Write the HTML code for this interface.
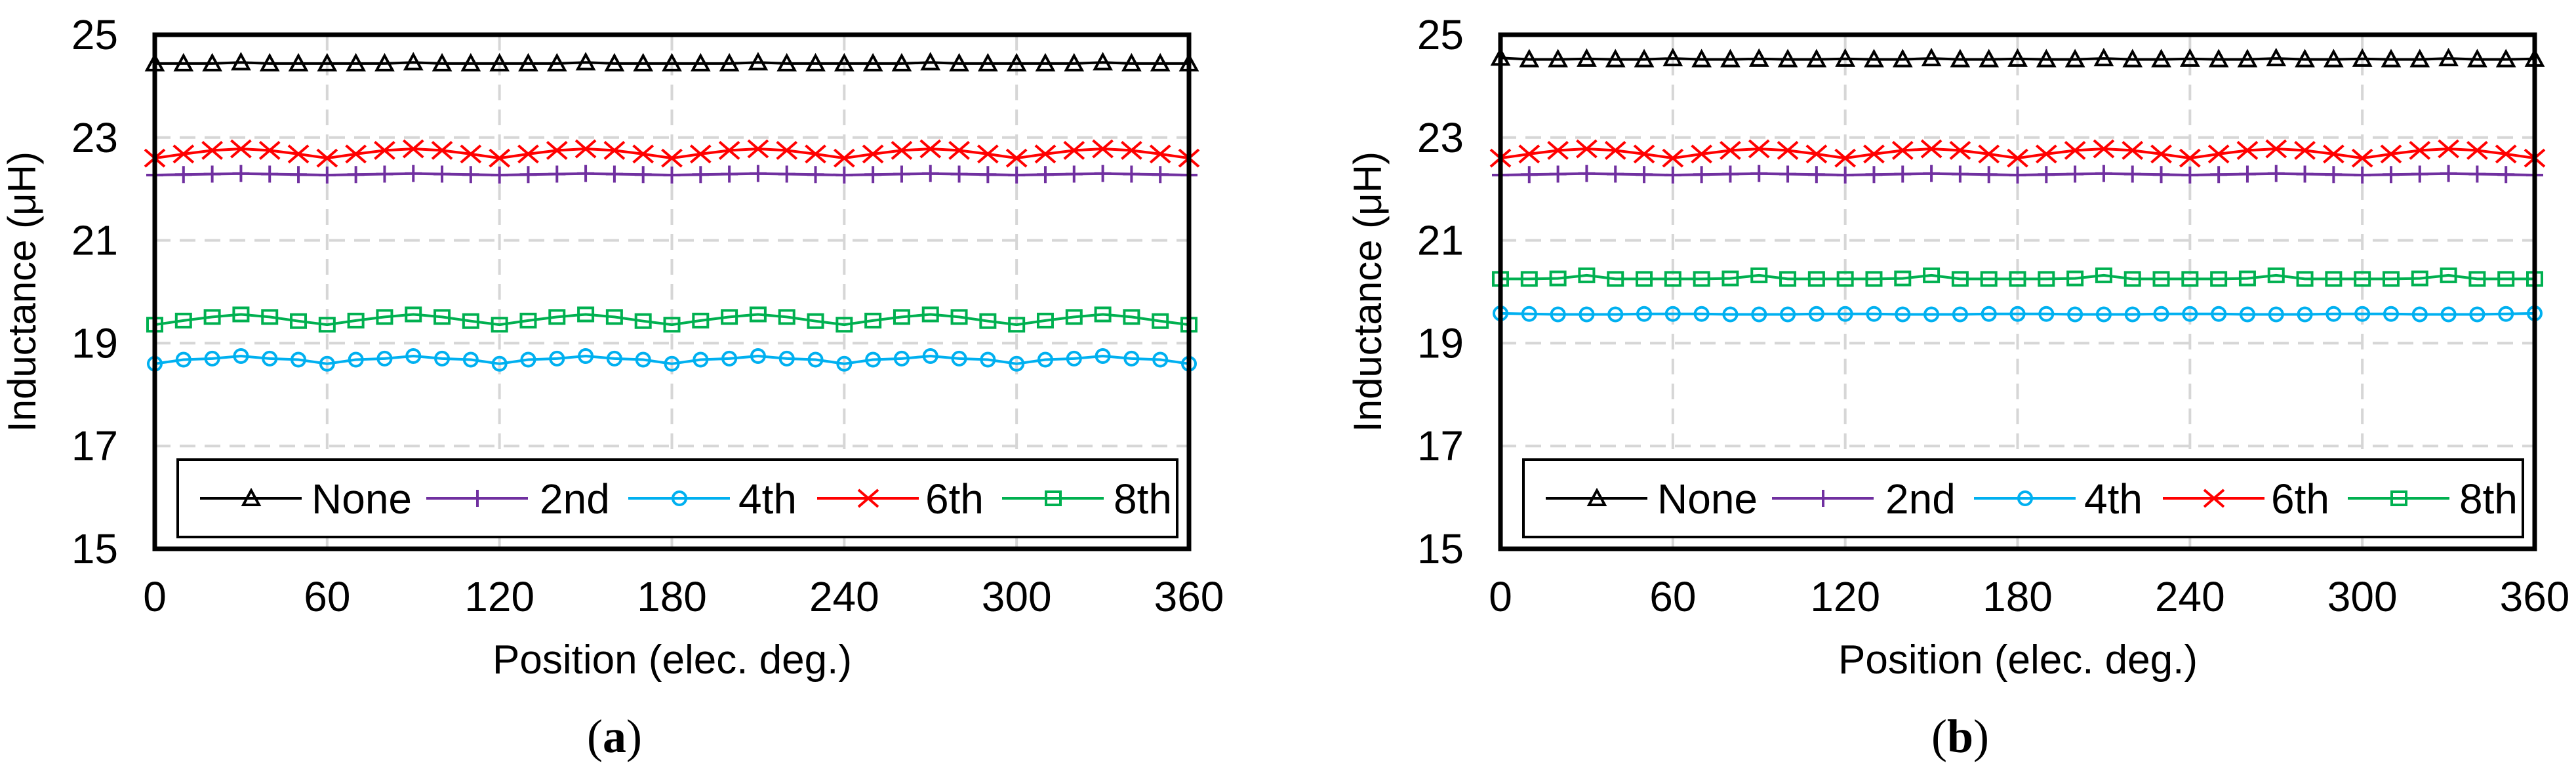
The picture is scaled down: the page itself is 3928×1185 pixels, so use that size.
<!DOCTYPE html>
<html><head><meta charset="utf-8"><style>
html,body{margin:0;padding:0;background:#fff;}
svg{display:block;font-family:"Liberation Sans",Arial,sans-serif;}
</style></head><body>
<svg id="fig" width="3928" height="1185" viewBox="0 0 3928 1185" xmlns="http://www.w3.org/2000/svg"></svg>
<script>
const positions = [0,10,20,30,40,50,60,70,80,90,100,110,120,130,140,150,160,170,180,190,200,210,220,230,240,250,260,270,280,290,300,310,320,330,340,350,360];
const xTicks = [0,60,120,180,240,300,360];
const yTicks = [15,17,19,21,23,25];
const seriesNames = ["None","2nd","4th","6th","8th"];
const seriesColors = ["#000000","#7030a0","#00b0f0","#ff0000","#00b050"];
const seriesMarkers = ["triangle","plus","circle","cross","square"];

const aNone = [24.44,24.44,24.44,24.46,24.44,24.44,24.44,24.44,24.44,24.46,24.44,24.44,24.44,24.44,24.44,24.46,24.44,24.44,24.44,24.44,24.44,24.46,24.44,24.44,24.44,24.44,24.44,24.46,24.44,24.44,24.44,24.44,24.44,24.46,24.44,24.44,24.44];
const a2nd = [22.27,22.28,22.29,22.30,22.29,22.28,22.27,22.28,22.29,22.30,22.29,22.28,22.27,22.28,22.29,22.30,22.29,22.28,22.27,22.28,22.29,22.30,22.29,22.28,22.27,22.28,22.29,22.30,22.29,22.28,22.27,22.28,22.29,22.30,22.29,22.28,22.27];
const a4th = [18.60,18.68,18.70,18.75,18.70,18.68,18.60,18.68,18.70,18.75,18.70,18.68,18.60,18.68,18.70,18.75,18.70,18.68,18.60,18.68,18.70,18.75,18.70,18.68,18.60,18.68,18.70,18.75,18.70,18.68,18.60,18.68,18.70,18.75,18.70,18.68,18.60];
const a6th = [22.60,22.68,22.75,22.78,22.75,22.68,22.60,22.68,22.75,22.78,22.75,22.68,22.60,22.68,22.75,22.78,22.75,22.68,22.60,22.68,22.75,22.78,22.75,22.68,22.60,22.68,22.75,22.78,22.75,22.68,22.60,22.68,22.75,22.78,22.75,22.68,22.60];
const a8th = [19.36,19.44,19.51,19.56,19.51,19.43,19.36,19.44,19.51,19.56,19.51,19.43,19.36,19.44,19.51,19.56,19.51,19.43,19.36,19.44,19.51,19.56,19.51,19.43,19.36,19.44,19.51,19.56,19.51,19.43,19.36,19.44,19.51,19.56,19.51,19.43,19.36];

const bNone = [24.55,24.52,24.52,24.53,24.52,24.52,24.54,24.52,24.52,24.53,24.52,24.52,24.53,24.52,24.52,24.54,24.52,24.52,24.53,24.52,24.52,24.54,24.52,24.52,24.53,24.52,24.52,24.54,24.52,24.52,24.53,24.52,24.52,24.54,24.52,24.52,24.53];
const b2nd = [22.27,22.28,22.29,22.30,22.29,22.28,22.27,22.28,22.29,22.30,22.29,22.28,22.27,22.28,22.29,22.30,22.29,22.28,22.27,22.28,22.29,22.30,22.29,22.28,22.27,22.28,22.29,22.30,22.29,22.28,22.27,22.28,22.29,22.30,22.29,22.28,22.27];
const b4th = [19.58,19.57,19.56,19.56,19.56,19.57,19.57,19.57,19.56,19.56,19.56,19.57,19.57,19.57,19.56,19.56,19.56,19.57,19.57,19.57,19.56,19.56,19.56,19.57,19.57,19.57,19.56,19.56,19.56,19.57,19.57,19.57,19.56,19.56,19.56,19.57,19.58];
const b6th = [22.60,22.68,22.75,22.78,22.75,22.68,22.60,22.68,22.75,22.78,22.75,22.68,22.60,22.68,22.75,22.78,22.75,22.68,22.60,22.68,22.75,22.78,22.75,22.68,22.60,22.68,22.75,22.78,22.75,22.68,22.60,22.68,22.75,22.78,22.75,22.68,22.60];
const b8th = [20.25,20.25,20.26,20.32,20.25,20.25,20.25,20.25,20.26,20.32,20.25,20.25,20.25,20.25,20.26,20.32,20.25,20.25,20.25,20.25,20.26,20.32,20.25,20.25,20.25,20.25,20.26,20.32,20.25,20.25,20.25,20.25,20.26,20.32,20.25,20.25,20.25];

const panelLabels = ["a","b"];
const NS = "http://www.w3.org/2000/svg";
const svg = document.getElementById("fig");
function mk(tag, attrs, parent){const e=document.createElementNS(NS,tag);for(const k in attrs)e.setAttribute(k,attrs[k]);(parent||svg).appendChild(e);return e;}

function marker(g, type, cx, cy, color){
  let e;
  const sw = 4;
  if(type==="triangle"){e=mk("polygon",{points:`${cx},${cy-12} ${cx+12},${cy+10} ${cx-12},${cy+10}`,fill:"none",stroke:color,"stroke-width":sw},g);}
  else if(type==="plus"){e=mk("path",{d:`M${cx-13},${cy}H${cx+13}M${cx},${cy-13}V${cy+13}`,stroke:color,"stroke-width":sw,fill:"none"},g);}
  else if(type==="circle"){e=mk("circle",{cx:cx,cy:cy,r:10,fill:"none",stroke:color,"stroke-width":sw},g);}
  else if(type==="cross"){e=mk("path",{d:`M${cx-15},${cy-13}L${cx+15},${cy+13}M${cx-15},${cy+13}L${cx+15},${cy-13}`,stroke:color,"stroke-width":sw,fill:"none"},g);}
  else {e=mk("rect",{x:cx-11,y:cy-10,width:22,height:20,fill:"none",stroke:color,"stroke-width":sw},g);}
  return e;
}

function drawPanel(off, label, data){
  const L=236+off, R=1813+off, T=53, B=837;
  const xs = v => L + (v-0)/(360-0)*(R-L);
  const ys = v => B - (v-15)/(25-15)*(B-T);
  const g = mk("g",{});
  
  
  xTicks.forEach(t=>{ if(t>0&&t<360){const l=mk("line",{x1:xs(t),x2:xs(t),y1:T,y2:B,stroke:"#d6d6d6","stroke-width":4,"stroke-dasharray":"24,14"},g);
    
    }});
  yTicks.forEach(t=>{ if(t>15&&t<25){const l=mk("line",{x1:L,x2:R,y1:ys(t),y2:ys(t),stroke:"#d6d6d6","stroke-width":4,"stroke-dasharray":"24,14"},g);
    
    }});
  data.forEach((vals,si)=>{
    const sg = mk("g",{},g);
    
    
    const pts = vals.map((v,i)=>`${xs(positions[i]).toFixed(1)},${ys(v).toFixed(1)}`).join(" ");
    const pl = mk("polyline",{points:pts,fill:"none",stroke:seriesColors[si],"stroke-width":4,"stroke-linejoin":"round"},sg);
    
    
    vals.forEach((v,i)=>{const m=marker(sg,seriesMarkers[si],xs(positions[i]),ys(v),seriesColors[si]);
      
      });
  });
  const fr = mk("rect",{x:L,y:T,width:R-L,height:B-T,fill:"none",stroke:"#000","stroke-width":7},g);
  
  
  yTicks.forEach(t=>{const tx=mk("text",{x:L-56,y:ys(t)+22,"text-anchor":"end","font-size":64,fill:"#000"},g);tx.textContent=t;
    
    });
  xTicks.forEach(t=>{const tx=mk("text",{x:xs(t),y:932,"text-anchor":"middle","font-size":64,fill:"#000"},g);tx.textContent=t;
    
    });
  const yt=mk("text",{x:0,y:0,transform:`translate(${L-182},445) rotate(-90)`,"text-anchor":"middle","font-size":60,fill:"#000"},g);
  yt.textContent="Inductance (μH)";
  
  
  const xt=mk("text",{x:1025+off,y:1027,"text-anchor":"middle","font-size":62,fill:"#000"},g);
  xt.textContent="Position (elec. deg.)";
  
  
  const lg = mk("g",{},g);
  
  
  mk("rect",{x:271+off,y:701,width:1524,height:118,fill:"#fff",stroke:"#000","stroke-width":4},lg);
  const lineStart=[305,650,958,1246,1528], textX=[475,823,1126,1411,1698];
  seriesNames.forEach((n,si)=>{
    const eg=mk("g",{},lg);
    
    
    const x0=lineStart[si]+off, cy=760;
    mk("line",{x1:x0,x2:x0+155,y1:cy,y2:cy,stroke:seriesColors[si],"stroke-width":4},eg);
    marker(eg,seriesMarkers[si],x0+78,cy,seriesColors[si]);
    const tx=mk("text",{x:textX[si]+off,y:cy+23,"font-size":64,fill:"#000"},eg);
    tx.textContent=n;
  });
  const pl=mk("text",{x:937+off,y:1147,"text-anchor":"middle","font-size":72,"font-family":"Liberation Serif, serif",fill:"#000"},g);
  pl.innerHTML=`(<tspan font-weight="bold">${label}</tspan>)`;
  
  
}
drawPanel(0,panelLabels[0],[aNone,a2nd,a4th,a6th,a8th]);
drawPanel(2052,panelLabels[1],[bNone,b2nd,b4th,b6th,b8th]);
</script>
</body></html>
